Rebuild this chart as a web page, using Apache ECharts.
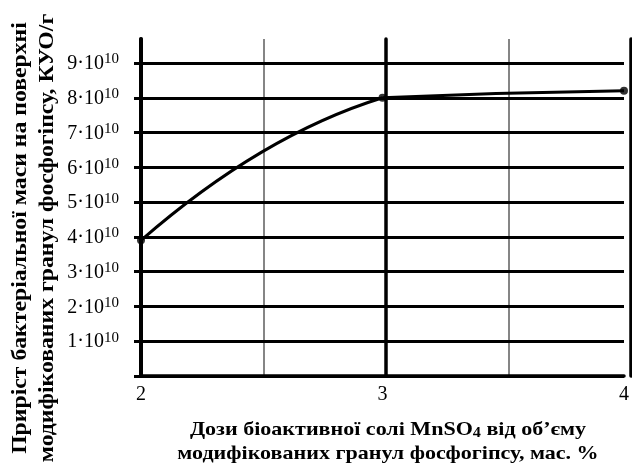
<!DOCTYPE html>
<html>
<head>
<meta charset="utf-8">
<script src="https://cdn.jsdelivr.net/npm/echarts@6/dist/echarts.min.js"></script>
<style>
  html, body { margin: 0; padding: 0; background: #fff; }
  #chart { width: 632px; height: 464px; }
</style>
</head>
<body>
<div id="chart"></div>
<script>
// Dose of bioactive MnSO4 salt, % by mass of the modified phosphogypsum granules
const doses = [2, 3, 4];
// Growth of bacterial mass on the granule surface, in units of 10^10 CFU/g
const growth = [3.9, 8.0, 8.2];
// Axis ticks
const xTicks = [2, 3, 4];
const yTicks = [1, 2, 3, 4, 5, 6, 7, 8, 9];

const yTitle = ['Приріст бактеріальної маси на поверхні', 'модифікованих гранул фосфогіпсу, КУО/г'];
const xTitleParts = ['Дози біоактивної солі MnSO', '4', ' від об’єму'];
const xTitleLine2 = 'модифікованих гранул фосфогіпсу, мас. %';

const SERIF = '"Liberation Serif", "Times New Roman", serif';

const chart = echarts.init(document.getElementById('chart'), null, { renderer: 'canvas' });

const plotLeft = 141, plotRight = 1, plotBottom = 88;
const yMax = yTicks[yTicks.length - 1];

chart.setOption({
  animation: false,
  backgroundColor: '#fff',
  grid: [
    // grid holding the data and horizontal rules
    { left: plotLeft, right: plotRight, top: 63, bottom: plotBottom, containLabel: false },
    // taller grid for the vertical rules, which rise above the top rule
    { left: plotLeft, right: plotRight, top: 39, bottom: plotBottom, containLabel: false }
  ],
  xAxis: [
    {
      gridIndex: 0, type: 'value', min: xTicks[0], max: xTicks[xTicks.length - 1], interval: 1,
      axisLine: { show: true, lineStyle: { color: '#000', width: 3.5 } },
      axisTick: { show: false },
      axisLabel: { show: true, margin: 9, color: '#000', fontFamily: SERIF, fontSize: 20 },
      splitLine: { show: false },
      z: 3
    },
    {
      gridIndex: 1, type: 'value', min: xTicks[0], max: xTicks[xTicks.length - 1], interval: 1,
      axisLine: { show: false }, axisTick: { show: false }, axisLabel: { show: false },
      splitLine: { show: true, lineStyle: { color: '#000', width: 3.5, cap: 'round' } },
      minorTick: { show: false, splitNumber: 2 },
      minorSplitLine: { show: true, lineStyle: { color: '#858585', width: 2 } },
      z: 1
    }
  ],
  yAxis: [
    {
      gridIndex: 0, type: 'value', min: 0, max: yMax, interval: 1,
      axisLine: { show: false },
      axisTick: { show: true, inside: false, length: 7, lineStyle: { color: '#000', width: 3 } },
      axisLabel: {
        show: true, margin: 22,
        formatter: v => (v === 0 ? '' : `{m|${v}·10}{s|10}`),
        rich: {
          m: { fontFamily: SERIF, fontSize: 20, color: '#000', lineHeight: 22, verticalAlign: 'bottom' },
          s: { fontFamily: SERIF, fontSize: 15, color: '#000', lineHeight: 22, verticalAlign: 'top' }
        }
      },
      splitLine: { show: true, lineStyle: { color: '#000', width: 3 } },
      z: 2
    },
    {
      gridIndex: 1, type: 'value', min: 0, max: 1,
      axisLine: { show: true, lineStyle: { color: '#000', width: 4, cap: 'round' } },
      axisTick: { show: false }, axisLabel: { show: false }, splitLine: { show: false },
      z: 3
    }
  ],
  graphic: [
    {
      type: 'text', x: 34, y: 238, rotation: Math.PI / 2, scaleX: 1.13,
      style: {
        text: yTitle.join('\n'),
        font: `bold 21px ${SERIF}`, fill: '#000',
        align: 'center', verticalAlign: 'middle', lineHeight: 27
      },
      z: 10
    },
    {
      type: 'text', x: 388, y: 440, scaleX: 1.16,
      style: {
        text: `{b|${xTitleParts[0]}}{sub|${xTitleParts[1]}}{b|${xTitleParts[2]}}\n{b|${xTitleLine2}}`,
        align: 'center', verticalAlign: 'middle',
        rich: {
          b: { fontFamily: SERIF, fontWeight: 'bold', fontSize: 19, fill: '#000', lineHeight: 23.5, verticalAlign: 'bottom' },
          sub: { fontFamily: SERIF, fontWeight: 'bold', fontSize: 14, fill: '#000', lineHeight: 23.5, verticalAlign: 'bottom' }
        }
      },
      z: 10
    }
  ],
  series: [
    {
      // smooth response curve through the measured points
      type: 'custom',
      xAxisIndex: 0, yAxisIndex: 0,
      clip: false, z: 5,
      data: [0],
      renderItem: (params, api) => {
        const p = doses.map((d, i) => api.coord([d, growth[i]]));
        // first span: ends parallel to the chord through its neighbours
        const slopeMid = (growth[2] - growth[0]) / (doses[2] - doses[0]);
        const c1 = api.coord([(doses[0] + doses[1]) / 2, growth[1] - slopeMid * (doses[1] - doses[0]) / 2]);
        // second span: gently levelling off
        const slopeEnd = 0.5 * (growth[2] - growth[1]) / (doses[2] - doses[1]);
        const c2 = api.coord([(doses[1] + doses[2]) / 2, growth[2] - slopeEnd * (doses[2] - doses[1]) / 2]);
        const st = { fill: null, stroke: '#000', lineWidth: 3 };
        return {
          type: 'group',
          children: [
            { type: 'bezierCurve', shape: { x1: p[0][0], y1: p[0][1], cpx1: c1[0], cpy1: c1[1], x2: p[1][0], y2: p[1][1] }, style: st },
            { type: 'bezierCurve', shape: { x1: p[1][0], y1: p[1][1], cpx1: c2[0], cpy1: c2[1], x2: p[2][0], y2: p[2][1] }, style: st }
          ]
        };
      }
    },
    {
      type: 'scatter',
      xAxisIndex: 0, yAxisIndex: 0,
      symbol: 'circle', symbolSize: 8,
      itemStyle: { color: '#000' },
      clip: false, z: 6,
      data: doses.map((d, i) => [d, growth[i]])
    }
  ]
});
</script>
</body>
</html>
